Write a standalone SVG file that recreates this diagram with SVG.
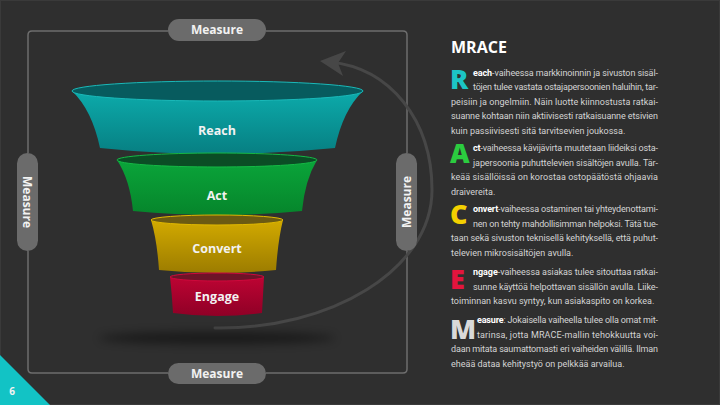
<svg xmlns="http://www.w3.org/2000/svg" width="720" height="405" viewBox="0 0 720 405">
<defs>
<style>
.lbl{font-family:"Open Sans","Liberation Sans",sans-serif;font-weight:700;fill:#f2f2f2;text-anchor:middle}
.pill{fill:#6b6b6b}
.frame{fill:none;stroke:#6e6e6e;stroke-width:1.5}
.body{font-family:Roboto,"Liberation Sans",sans-serif;font-size:9px;fill:#d4d4d4}
.b{font-weight:700;fill:#ffffff}
.cap{font-family:"Open Sans","Liberation Sans",sans-serif;font-weight:800;font-size:27px}
</style>
<linearGradient id="gR" x1="0" y1="0" x2="0" y2="1"><stop offset="0" stop-color="#0cabab"/><stop offset="1" stop-color="#077f82"/></linearGradient>
<linearGradient id="gA" x1="0" y1="0" x2="0" y2="1"><stop offset="0" stop-color="#0aa53a"/><stop offset="1" stop-color="#06852b"/></linearGradient>
<linearGradient id="gC" x1="0" y1="0" x2="0" y2="1"><stop offset="0" stop-color="#d2aa00"/><stop offset="1" stop-color="#9c7c00"/></linearGradient>
<linearGradient id="gE" x1="0" y1="0" x2="0" y2="1"><stop offset="0" stop-color="#bd0433"/><stop offset="1" stop-color="#8f0026"/></linearGradient>
<filter id="blur" x="-20%" y="-200%" width="140%" height="500%"><feGaussianBlur stdDeviation="5"/></filter>
</defs>
<rect width="720" height="405" fill="#2f2f2f"/>
<rect x="0.5" y="0.5" width="719" height="404" fill="none" stroke="#3a3a3a" stroke-width="1"/>

<g id="connectors">
<path class="frame" d="M28 153 V35 Q28 31 32 31 H168 M266 31 H403 Q407 31 407 35 V153 M407 251 V369 Q407 373 403 373 H266 M168 373 H32 Q28 373 28 369 V251"/>
<path d="M215 328 C330 330 432 270 432 190 C432 120 390 68 330 62" fill="none" stroke="#474747" stroke-width="3" stroke-linecap="round"/>
<polygon points="320,61 346,51 338,63 343,76" fill="#474747"/>
</g>

<ellipse cx="217" cy="338" rx="118" ry="6" fill="#000" opacity="0.45" filter="url(#blur)"/>

<g id="reach">
<path d="M72 91 Q92 110 100 148 Q217 160 335 148 Q343 110 363 91 Z" fill="url(#gR)"/>
<ellipse cx="217.5" cy="91" rx="145.5" ry="10" fill="#075b5e" stroke="#1ab9b9" stroke-width="1"/>
<text class="lbl" x="217" y="134.5" font-size="12.5">Reach</text>
</g>
<g id="act">
<path d="M117 160 Q130 180 133 211 Q217 219 302 211 Q305 180 317 160 Z" fill="url(#gA)"/>
<ellipse cx="217" cy="160" rx="100" ry="7" fill="#0b4d25" stroke="#15b845" stroke-width="1"/>
<text class="lbl" x="217" y="199.5" font-size="12.5">Act</text>
</g>
<g id="convert">
<path d="M151 220 Q157 240 159 270 Q217 276 276 270 Q278 240 283 220 Z" fill="url(#gC)"/>
<ellipse cx="217" cy="220" rx="66" ry="5" fill="#6b5a12" stroke="#e0b800" stroke-width="1"/>
<text class="lbl" x="217" y="252.5" font-size="12.5">Convert</text>
</g>
<g id="engage">
<path d="M170 277 Q172 295 173 313 Q217 319 262 313 Q263 295 264 277 Z" fill="url(#gE)"/>
<ellipse cx="217" cy="277" rx="47" ry="4" fill="#6e1428" stroke="#d0083c" stroke-width="1"/>
<text class="lbl" x="217" y="301" font-size="12.5">Engage</text>
</g>

<g id="measure-top">
<rect class="pill" x="168" y="19" width="98" height="22" rx="11"/>
<text class="lbl" x="217" y="34.3" font-size="12">Measure</text>
</g>
<g id="measure-bottom">
<rect class="pill" x="168" y="363" width="98" height="21" rx="10.5"/>
<text class="lbl" x="217" y="378" font-size="12">Measure</text>
</g>
<g id="measure-left">
<rect class="pill" x="17" y="153" width="21" height="98" rx="10.5"/>
<text class="lbl" font-size="12" transform="translate(23.2 202) rotate(90)">Measure</text>
</g>
<g id="measure-right">
<rect class="pill" x="396" y="153" width="21" height="98" rx="10.5"/>
<text class="lbl" font-size="12" transform="translate(410.8 202) rotate(-90)">Measure</text>
</g>

<g id="corner">
<polygon points="0,355 50,405 0,405" fill="#12c3c5"/>
<text class="lbl" x="12" y="395" font-size="10">6</text>
</g>

<g id="text-column">
<text x="451" y="53" font-family="'Open Sans','Liberation Sans',sans-serif" font-weight="700" font-size="16" fill="#ffffff">MRACE</text>

<text class="cap" x="450" y="88.5" fill="#1cc4c6">R</text>
<text class="body" x="473" y="75.5" textLength="185" lengthAdjust="spacing"><tspan class="b">each</tspan>-vaiheessa markkinoinnin ja sivuston sisäl-</text>
<text class="body" x="473" y="90" textLength="185" lengthAdjust="spacing">töjen tulee vastata ostajapersoonien haluihin, tar-</text>
<text class="body" x="451" y="104.5" textLength="207" lengthAdjust="spacing">peisiin ja ongelmiin. Näin luotte kiinnostusta ratkai-</text>
<text class="body" x="451" y="119" textLength="207" lengthAdjust="spacing">suanne kohtaan niin aktiivisesti ratkaisuanne etsivien</text>
<text class="body" x="451" y="133.5">kuin passiivisesti sitä tarvitsevien joukossa.</text>

<text class="cap" x="450" y="163" fill="#2bcc3f">A</text>
<text class="body" x="473" y="151" textLength="185" lengthAdjust="spacing"><tspan class="b">ct</tspan>-vaiheessa kävijävirta muutetaan liideiksi osta-</text>
<text class="body" x="473" y="165.5" textLength="185" lengthAdjust="spacing">japersoonia puhuttelevien sisältöjen avulla. Tär-</text>
<text class="body" x="451" y="180" textLength="207" lengthAdjust="spacing">keää sisällöissä on korostaa ostopäätöstä ohjaavia</text>
<text class="body" x="451" y="194.5">draivereita.</text>

<text class="cap" x="450" y="224" fill="#f3d000">C</text>
<text class="body" x="473" y="212" textLength="185" lengthAdjust="spacing"><tspan class="b">onvert</tspan>-vaiheessa ostaminen tai yhteydenottami-</text>
<text class="body" x="473" y="226.5" textLength="185" lengthAdjust="spacing">nen on tehty mahdollisimman helpoksi. Tätä tue-</text>
<text class="body" x="451" y="241" textLength="207" lengthAdjust="spacing">taan sekä sivuston teknisellä kehityksellä, että puhut-</text>
<text class="body" x="451" y="255.5">televien mikrosisältöjen avulla.</text>

<text class="cap" x="450" y="288.5" fill="#e3143d">E</text>
<text class="body" x="473" y="275" textLength="185" lengthAdjust="spacing"><tspan class="b">ngage</tspan>-vaiheessa asiakas tulee sitouttaa ratkai-</text>
<text class="body" x="473" y="289.5" textLength="185" lengthAdjust="spacing">sunne käyttöä helpottavan sisällön avulla. Liike-</text>
<text class="body" x="451" y="304">toiminnan kasvu syntyy, kun asiakaspito on korkea.</text>

<text class="cap" x="450" y="338.5" fill="#d9d9d9">M</text>
<text class="body" x="477" y="323" textLength="181" lengthAdjust="spacing"><tspan class="b">easure</tspan>: Jokaisella vaiheella tulee olla omat mit-</text>
<text class="body" x="477" y="337.5" textLength="181" lengthAdjust="spacing">tarinsa, jotta MRACE-mallin tehokkuutta voi-</text>
<text class="body" x="451" y="352" textLength="207" lengthAdjust="spacing">daan mitata saumattomasti eri vaiheiden välillä. Ilman</text>
<text class="body" x="451" y="366.5">eheää dataa kehitystyö on pelkkää arvailua.</text>
</g>
</svg>
